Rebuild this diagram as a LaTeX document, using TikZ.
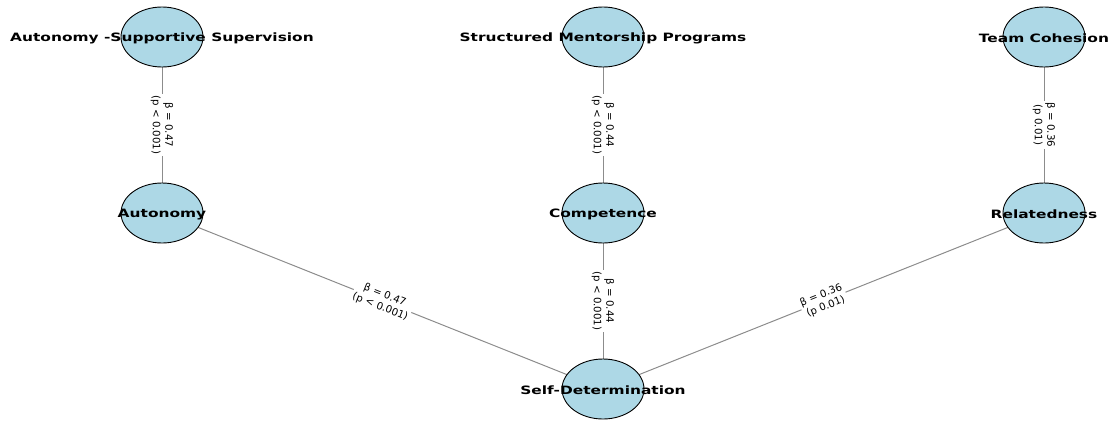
\documentclass[tikz,border=0pt]{standalone}
\usepackage{fontspec}
\setmainfont{DejaVu Sans}
\usetikzlibrary{shapes.geometric}
\definecolor{nodeblue}{HTML}{ADD8E6}
\definecolor{edgegray}{HTML}{8C8C8C}
\newcommand{\wide}[1]{\scalebox{1.34}[1]{#1}}
\begin{document}
\begin{tikzpicture}[x=1pt,y=-1pt,
 circ/.style={ellipse, draw=black, line width=0.9pt, fill=nodeblue, minimum width=82pt, minimum height=60pt, inner sep=0pt},
 lbl/.style={font=\fontsize{11.5}{13}\selectfont\bfseries, inner sep=0pt, yshift=-1.5pt},
 edge/.style={draw=edgegray, line width=1pt},
 elbl/.style={fill=white, font=\fontsize{10.2}{12.5}\selectfont, align=center, inner sep=1.5pt}]
\useasboundingbox (0,0) rectangle (1114,421);
% coordinates for nodes
\coordinate (pA) at (162,37);
\coordinate (pB) at (603,37);
\coordinate (pC) at (1044,37);
\coordinate (pD) at (162,213);
\coordinate (pE) at (603,213);
\coordinate (pF) at (1044,213);
\coordinate (pG) at (603,389);
% edges
\draw[edge] (pA) -- (pD) node[elbl, midway, rotate=-90] (lAD) {β = 0.47\\(p < 0.001)};
\draw[edge] (pB) -- (pE) node[elbl, midway, rotate=-90] (lBE) {β = 0.44\\(p < 0.001)};
\draw[edge] (pC) -- (pF) node[elbl, midway, rotate=-90] (lCF) {β = 0.36\\(p 0.01)};
\draw[edge] (pD) -- (pG) node[elbl, midway, rotate=-21.8] (lDG) {β = 0.47\\(p < 0.001)};
\draw[edge] (pE) -- (pG) node[elbl, midway, rotate=-90] (lEG) {β = 0.44\\(p < 0.001)};
\draw[edge] (pG) -- (pF) node[elbl, midway, rotate=21.8] (lGF) {β = 0.36\\(p 0.01)};
% nodes
\node[circ] (A) at (pA) {};
\node[circ] (B) at (pB) {};
\node[circ] (C) at (pC) {};
\node[circ] (D) at (pD) {};
\node[circ] (E) at (pE) {};
\node[circ] (F) at (pF) {};
\node[circ] (G) at (pG) {};
\node[lbl] (tA) at (pA) {\wide{Autonomy -Supportive Supervision}};
\node[lbl] (tB) at (pB) {\wide{Structured Mentorship Programs}};
\node[lbl] (tC) at (pC) {\wide{Team Cohesion}};
\node[lbl] (tD) at (pD) {\wide{Autonomy}};
\node[lbl] (tE) at (pE) {\wide{Competence}};
\node[lbl] (tF) at (pF) {\wide{Relatedness}};
\node[lbl] (tG) at (pG) {\wide{Self-Determination}};
\end{tikzpicture}
\end{document}
